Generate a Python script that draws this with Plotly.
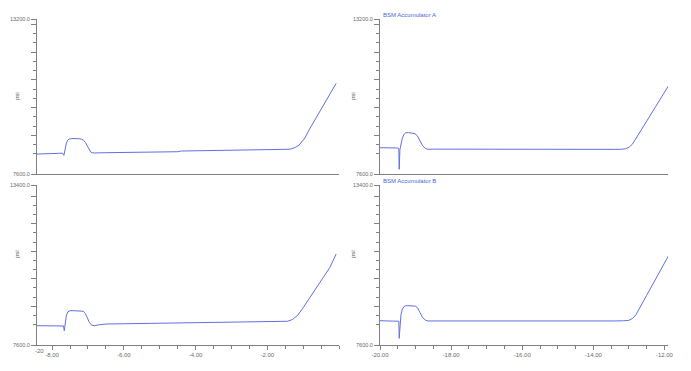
import plotly.graph_objects as go

W, H = 691, 371
OFF = 8  # page body margin offset

# ---------------- data ----------------
tl_x = [-8.42, -8.10, -7.88, -7.86, -7.72, -7.69, -7.67, -7.64, -7.60, -7.56, -7.52,
        -7.45, -7.35, -7.25, -7.17, -7.12, -7.07, -7.02, -6.97, -6.92, -6.87, -6.80,
        -6.50, -6.00, -5.50, -5.00, -4.50, -4.40, -4.00, -3.00, -2.00, -1.60, -1.42,
        -1.32, -1.22, -1.11, -0.95, -0.83, -0.56, -0.28, -0.08]
tl_y = [8320, 8322, 8325, 8345, 8352, 8335, 8275, 8480, 8720, 8830, 8865,
        8880, 8882, 8875, 8855, 8820, 8740, 8610, 8470, 8390, 8365, 8360,
        8370, 8378, 8385, 8395, 8405, 8430, 8435, 8450, 8470, 8480, 8492,
        8510, 8560, 8648, 8900, 9200, 9800, 10420, 10877]

tr_x = [-20.00, -19.70, -19.50, -19.47, -19.46, -19.44, -19.41, -19.37, -19.32,
        -19.27, -19.20, -19.10, -19.02, -18.95, -18.88, -18.80, -18.72, -18.65,
        -18.50, -18.00, -17.00, -16.00, -15.00, -14.00, -13.40, -13.20, -13.10,
        -13.00, -12.90, -12.60, -12.30, -12.10, -11.89]
tr_y = [8550, 8548, 8540, 8515, 7770, 8480, 8700, 8900, 9040,
        9092, 9095, 9080, 9060, 8980, 8800, 8620, 8520, 8492,
        8498, 8495, 8492, 8490, 8490, 8490, 8490, 8495, 8510,
        8560, 8680, 9300, 9925, 10340, 10779]

bl_x = [-8.42, -8.00, -7.70, -7.68, -7.66, -7.64, -7.60, -7.56, -7.50,
        -7.40, -7.30, -7.20, -7.13, -7.07, -7.02, -6.96, -6.90, -6.82,
        -6.70, -6.50, -6.00, -5.00, -4.55, -4.45, -4.00, -3.00, -2.00,
        -1.60, -1.44, -1.30, -1.15, -1.00, -0.80, -0.50, -0.25, -0.08]
bl_y = [8300, 8302, 8300, 8290, 8118, 8400, 8680, 8800, 8843,
        8845, 8840, 8830, 8822, 8740, 8580, 8420, 8325, 8300,
        8330, 8361, 8370, 8385, 8395, 8410, 8415, 8425, 8434,
        8445, 8460, 8520, 8680, 8950, 9330, 9920, 10420, 10899]

br_x = [-20.00, -19.70, -19.50, -19.47, -19.46, -19.44, -19.41, -19.37, -19.32,
        -19.28, -19.20, -19.10, -19.00, -18.94, -18.87, -18.80, -18.72, -18.65,
        -18.50, -18.00, -17.00, -16.00, -15.00, -14.00, -13.40, -13.15, -13.01,
        -12.90, -12.80, -12.50, -12.20, -12.00, -11.89]
br_y = [8481, 8480, 8476, 8460, 7843, 8420, 8700, 8900, 9000,
        9025, 9030, 9020, 9005, 8940, 8760, 8590, 8500, 8470,
        8472, 8470, 8468, 8470, 8470, 8470, 8472, 8478, 8490,
        8560, 8700, 9400, 10100, 10570, 10826]

left_xticks = [-8, -6, -4, -2]
right_xticks = [-20, -18, -16, -14, -12]
top_yrange = [7600, 13200]
bot_yrange = [7600, 13400]

# ---------------- styling ----------------
LINE = "#5f70e2"
AXC = "#808080"
TXT = "#6a6a6a"
FONT = "Liberation Sans"

def px_x(p):
    return (p - OFF) / W

def px_y(p):
    return 1 - (p - OFF) / H

xdom_l = [px_x(37), px_x(339)]
xdom_r = [px_x(380), px_x(668)]
ydom_t = [px_y(174), px_y(19)]
ydom_b = [px_y(345), px_y(185)]

fig = go.Figure()
line = dict(color=LINE, width=1)
fig.add_trace(go.Scatter(x=tl_x, y=tl_y, mode="lines", line=line, xaxis="x", yaxis="y", showlegend=False))
fig.add_trace(go.Scatter(x=tr_x, y=tr_y, mode="lines", line=line, xaxis="x2", yaxis="y2", showlegend=False))
fig.add_trace(go.Scatter(x=bl_x, y=bl_y, mode="lines", line=line, xaxis="x3", yaxis="y3", showlegend=False))
fig.add_trace(go.Scatter(x=br_x, y=br_y, mode="lines", line=line, xaxis="x4", yaxis="y4", showlegend=False))


def minor_list(lo, hi, step, start):
    vals = []
    v = start
    while v <= hi + 1e-9:
        if v >= lo - 1e-9:
            vals.append(round(v, 4))
        v += step
    return vals


def xaxis(dom, rng, ticks_vals, anchor, show_ticks):
    d = dict(domain=dom, range=rng, anchor=anchor, showgrid=False, zeroline=False,
             showline=True, linecolor=AXC, linewidth=1, fixedrange=True)
    if show_ticks:
        d.update(tickmode="array", tickvals=ticks_vals,
                 ticktext=["%.2f" % v for v in ticks_vals],
                 ticks="outside", ticklen=4, tickcolor=AXC, tickwidth=1,
                 tickfont=dict(family=FONT, size=6, color=TXT),
                 minor=dict(tickmode="array",
                            tickvals=minor_list(rng[0], rng[1], 0.5, -20.0),
                            ticks="outside", ticklen=3, tickcolor=AXC, tickwidth=1))
    else:
        d.update(showticklabels=False, ticks="")
    return d


def yaxis(dom, rng, anchor):
    majors = [rng[0]] + [v for v in range(9000, int(rng[1]), 1000)] + [rng[1]]
    texts = ["%.1f" % rng[0]] + [""] * (len(majors) - 2) + ["%.1f" % rng[1]]
    minors = [v for v in minor_list(8000, rng[1] - 100, 1000 / 3, 8000)
              if abs(v - round(v / 1000) * 1000) > 1]
    return dict(domain=dom, range=rng, anchor=anchor, showgrid=False, zeroline=False,
                showline=True, linecolor=AXC, linewidth=1, fixedrange=True,
                tickmode="array", tickvals=majors, ticktext=texts,
                ticks="outside", ticklen=5, tickcolor=AXC, tickwidth=1,
                tickfont=dict(family=FONT, size=5.5, color=TXT),
                minor=dict(tickmode="array", tickvals=minors, ticks="outside",
                           ticklen=3, tickcolor=AXC, tickwidth=1))


fig.update_layout(
    width=W, height=H,
    margin=dict(l=0, r=0, t=0, b=0, autoexpand=False),
    paper_bgcolor="white", plot_bgcolor="white",
    xaxis=xaxis(xdom_l, [-8.42, 0.0], left_xticks, "y", False),
    yaxis=yaxis(ydom_t, top_yrange, "x"),
    xaxis2=xaxis(xdom_r, [-20.0, -11.9], right_xticks, "y2", False),
    yaxis2=yaxis(ydom_t, top_yrange, "x2"),
    xaxis3=xaxis(xdom_l, [-8.42, 0.0], left_xticks, "y3", True),
    yaxis3=yaxis(ydom_b, bot_yrange, "x3"),
    xaxis4=xaxis(xdom_r, [-20.0, -11.9], right_xticks, "y4", True),
    yaxis4=yaxis(ydom_b, bot_yrange, "x4"),
)

ann = []
for (xp, yp) in [(12, 90), (12, 260), (353, 90), (353, 260)]:
    ann.append(dict(text="psi", x=px_x(xp), y=px_y(yp), xref="paper", yref="paper",
                    showarrow=False, textangle=-90,
                    font=dict(family=FONT, size=6, color="#555555")))
ann.append(dict(text="BSM Accumulator A", x=px_x(381), y=px_y(10), xref="paper", yref="paper",
                xanchor="left", showarrow=False,
                font=dict(family=FONT, size=6, color="#4a66d8")))
ann.append(dict(text="BSM Accumulator B", x=px_x(381), y=px_y(181), xref="paper", yref="paper",
                xanchor="left", showarrow=False,
                font=dict(family=FONT, size=6, color="#4a66d8")))
ann.append(dict(text="-20", x=px_x(33), y=px_y(356), xref="paper", yref="paper",
                showarrow=False, font=dict(family=FONT, size=6, color=TXT)))
fig.update_layout(annotations=ann)

fig.write_html("out.html")
